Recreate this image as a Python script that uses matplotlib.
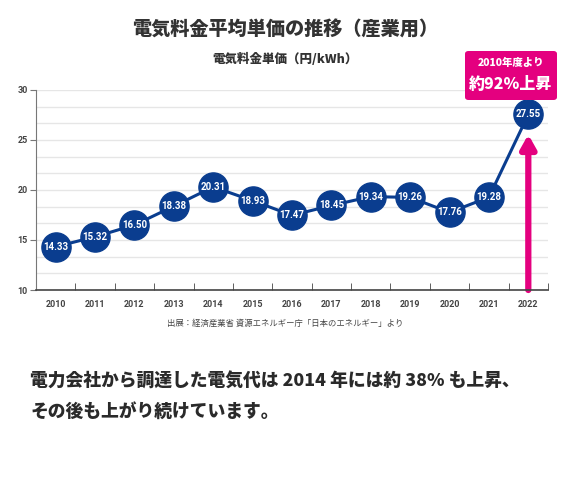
import numpy as np
import matplotlib.pyplot as plt
from matplotlib.patches import FancyBboxPatch

plt.rcParams['font.family'] = ['Noto Sans CJK JP', 'DejaVu Sans']

# データ
years = ['2010', '2011', '2012', '2013', '2014', '2015', '2016',
         '2017', '2018', '2019', '2020', '2021', '2022']
price = [14.33, 15.32, 16.50, 18.38, 20.31, 18.93, 17.47,
         18.45, 19.34, 19.26, 17.76, 19.28, 27.55]

title = '電気料金平均単価の推移（産業用）'
subtitle = '電気料金単価（円/kWh）'
source = '出展：経済産業省 資源エネルギー庁「日本のエネルギー」より'
note = ['電力会社から調達した電気代は 2014 年には約 38% も上昇、',
        'その後も上がり続けています。']
badge = ['2010年度より', '約92%上昇']

blue = '#0a3d8f'
pink = '#e4007f'

fig = plt.figure(figsize=(5.7, 5.0), dpi=100)
ax = fig.add_axes([36 / 570, 1 - 290 / 500, 512 / 570, 200 / 500])

x = np.arange(len(years))

# グリッド
for g in np.linspace(10, 30, 13):
    ax.axhline(g, color='#e6e6e6', lw=1, zorder=0)

# 矢印（2022）
ax.annotate('', xy=(x[-1], price[-1] - 2.0), xytext=(x[-1], 10),
            arrowprops=dict(arrowstyle='-|>,head_width=0.45,head_length=0.8',
                            color=pink, lw=4.5, shrinkA=0, shrinkB=0),
            zorder=2)

ax.plot(x, price, color=blue, lw=2.2, marker='o', markersize=21,
        markerfacecolor=blue, markeredgecolor=blue, zorder=3)
for xi, v in zip(x, price):
    ax.text(xi, v, f'{v:.2f}', color='white', ha='center', va='center',
            fontsize=7, fontweight='bold', family=['Roboto', 'DejaVu Sans'], zorder=4)

ax.set_xlim(-0.5, len(years) - 0.5)
ax.set_ylim(10, 30)
ax.set_yticks([10, 15, 20, 25, 30])
ax.set_xticks(x)
ax.set_xticklabels(years)
ax.set_xticks(np.arange(0.5, len(years), 1.0), minor=True)

for s in ['top', 'right']:
    ax.spines[s].set_visible(False)
ax.spines['left'].set_color('#777777')
ax.spines['bottom'].set_color('#444444')
ax.spines['bottom'].set_linewidth(1.2)

ax.tick_params(axis='y', length=4, color='#777777', labelsize=6.5,
               labelcolor='#444444', pad=2)
ax.tick_params(axis='x', which='major', length=0, labelsize=6.5,
               labelcolor='#444444', pad=7)
ax.tick_params(axis='x', which='minor', direction='in', length=5,
               color='#444444')
for lbl in ax.get_xticklabels() + ax.get_yticklabels():
    lbl.set_fontweight('bold')
    lbl.set_family(['Roboto', 'DejaVu Sans'])

# ピンクのボックス
box = FancyBboxPatch((465 / 570, 1 - 100 / 500), 92 / 570, 49 / 500,
                     boxstyle='round,pad=0,rounding_size=0.006',
                     transform=fig.transFigure, facecolor=pink,
                     edgecolor='none', zorder=5)
fig.patches.append(box)
fig.text(511 / 570, 1 - 63 / 500, badge[0], color='white', ha='center',
         va='center', fontsize=7.5, fontweight='black', zorder=6)
fig.text(511 / 570, 1 - 84 / 500, badge[1], color='white', ha='center',
         va='center', fontsize=11.5, fontweight='black', zorder=6)

fig.text(285 / 570, 1 - 30 / 500, title, ha='center', va='center',
         fontsize=13.8, fontweight='black', color='#333333')
fig.text(285 / 570, 1 - 58 / 500, subtitle, ha='center', va='center',
         fontsize=9, fontweight='black', color='#333333')
fig.text(285 / 570, 1 - 323 / 500, source, ha='center', va='center',
         fontsize=6, color='#444444')
fig.text(30 / 570, 1 - 382 / 500, note[0], ha='left', va='center',
         fontsize=12.8, fontweight='black', color='#2a2a2a')
fig.text(30 / 570, 1 - 412 / 500, note[1], ha='left', va='center',
         fontsize=12.8, fontweight='black', color='#2a2a2a')

fig.savefig('out.png', dpi=100, facecolor='white')
